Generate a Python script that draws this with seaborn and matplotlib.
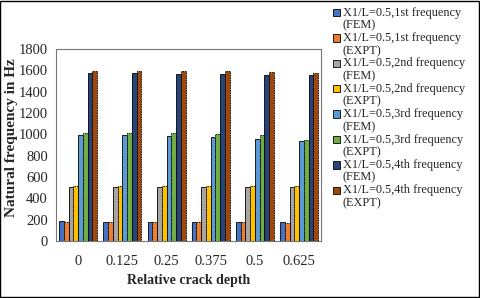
import matplotlib
matplotlib.use("Agg")
import matplotlib.pyplot as plt
import matplotlib.patches as mpatches
from matplotlib.legend_handler import HandlerPatch
import numpy as np
import pandas as pd
import seaborn as sns

depths = ["0", "0.125", "0.25", "0.375", "0.5", "0.625"]
series = [
    "X1/L=0.5,1st frequency\n(FEM)",
    "X1/L=0.5,1st frequency\n(EXPT)",
    "X1/L=0.5,2nd frequency\n(FEM)",
    "X1/L=0.5,2nd frequency\n(EXPT)",
    "X1/L=0.5,3rd frequency\n(FEM)",
    "X1/L=0.5,3rd frequency\n(EXPT)",
    "X1/L=0.5,4th frequency\n(FEM)",
    "X1/L=0.5,4th frequency\n(EXPT)",
]
f1_fem = [184, 183, 182, 181, 181, 178]
f1_expt = [183, 179, 177, 179, 177, 174]
f2_fem = [505, 505, 505, 505, 505, 505]
f2_expt = [518, 516, 514, 514, 514, 514]
f3_fem = [996, 992, 985, 975, 958, 938]
f3_expt = [1015, 1012, 1008, 1000, 994, 942]
f4_fem = [1572, 1572, 1568, 1565, 1559, 1553]
f4_expt = [1597, 1596, 1590, 1590, 1581, 1578]
colors = ["#4472C4", "#ED7D31", "#A5A5A5", "#FFC000",
          "#5B9BD5", "#70AD47", "#264478", "#9E480E"]

values = [f1_fem, f1_expt, f2_fem, f2_expt, f3_fem, f3_expt, f4_fem, f4_expt]
rows = []
for name, vals in zip(series, values):
    for d, v in zip(depths, vals):
        rows.append({"depth": d, "series": name, "freq": v})
df = pd.DataFrame(rows)

sns.set_style("white")
plt.rcParams["font.family"] = ["Liberation Serif", "DejaVu Serif"]

fig = plt.figure(figsize=(4.8, 2.98), dpi=100)
ax = fig.add_axes([0.117, 0.191, 0.552, 0.645])

sns.barplot(data=df, x="depth", y="freq", hue="series", hue_order=series,
            order=depths, palette=colors, width=0.86, ax=ax,
            edgecolor="black", linewidth=0.6, saturation=1)

# EXPT bars get dashed outlines
for i, cont in enumerate(ax.containers):
    if i % 2 == 1:
        for bar in cont:
            bar.set_linestyle((0, (2, 1)))

ax.set_ylim(0, 1800)
ax.set_yticks(np.arange(0, 1801, 200))
ax.set_xlabel("Relative crack depth", fontsize=10, fontweight="bold")
ax.set_ylabel("Natural frequency in Hz", fontsize=11, fontweight="bold")
ax.yaxis.set_label_coords(-0.143, 0.54)
ax.tick_params(axis="both", labelsize=10.5, length=0, pad=6)
ax.tick_params(axis="x", pad=10)
for s in ax.spines.values():
    s.set_color("#777777")
    s.set_linewidth(0.8)


# legend squares sit beside the first line of each two-line label
def square_up(legend, orig_handle, xdescent, ydescent, width, height, fontsize):
    return mpatches.Rectangle((-xdescent, -ydescent + 4.8), width, height)


handles, labels = ax.get_legend_handles_labels()
ax.get_legend().remove()
leg = fig.legend(handles, labels, loc="upper left",
                 bbox_to_anchor=(0.694, 0.978), frameon=False,
                 fontsize=8.8, handlelength=0.55, handleheight=0.55,
                 handletextpad=0.25, labelspacing=0.04, borderaxespad=0,
                 borderpad=0,
                 handler_map={mpatches.Rectangle: HandlerPatch(patch_func=square_up)})
for t in leg.get_texts():
    t.set_linespacing(1.1)
for h in leg.legend_handles:
    h.set_linestyle("-")
    h.set_edgecolor("black")
    h.set_linewidth(0.6)

fig.patches.append(plt.Rectangle((0.001, 0.002), 0.997, 0.995,
                                 transform=fig.transFigure, fill=False,
                                 edgecolor="black", linewidth=1))

fig.savefig("out.png", dpi=100)
